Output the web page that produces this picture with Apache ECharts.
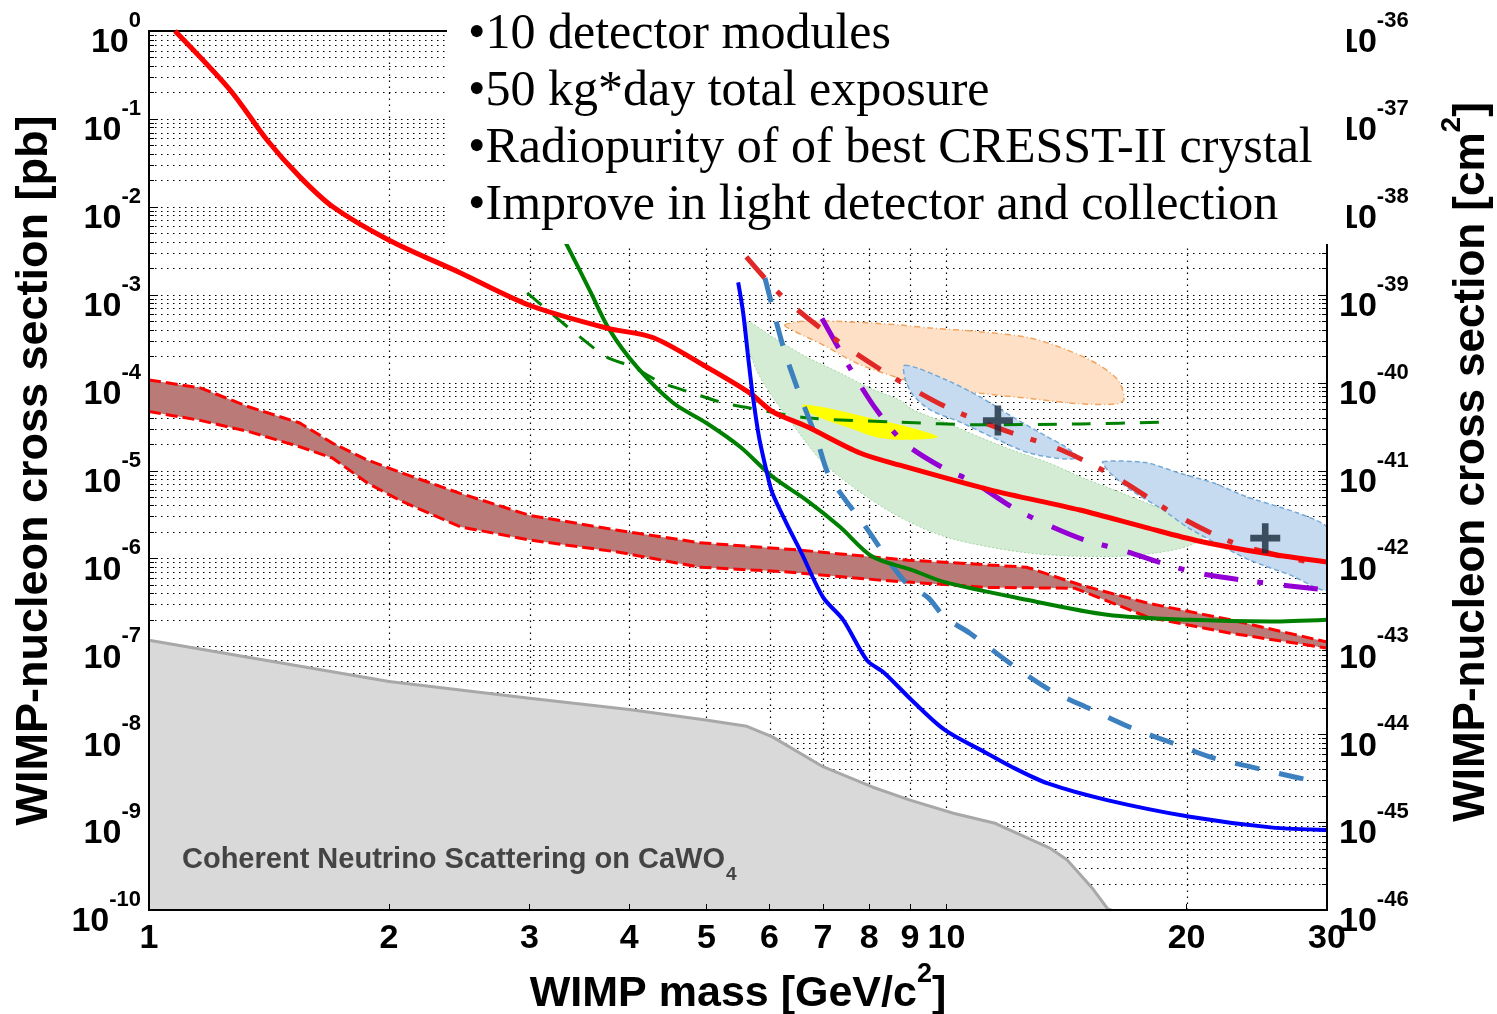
<!DOCTYPE html>
<html>
<head>
<meta charset="utf-8">
<script src="https://cdn.jsdelivr.net/npm/echarts@6/dist/echarts.min.js"></script>
<style>
  html, body { margin: 0; padding: 0; background: #ffffff; }
  #chart { width: 1497px; height: 1014px; }
</style>
</head>
<body>
<div id="chart"></div>
<script>
// ---- axis structure -------------------------------------------------------
const massTicks = [1, 2, 3, 4, 5, 6, 7, 8, 9, 10, 20, 30];       // GeV/c^2
const massGridLines = [2, 3, 4, 5, 6, 7, 8, 9, 10, 20];
const sigmaDecades = [0, -1, -2, -3, -4, -5, -6, -7, -8, -9, -10]; // log10 pb
const sigmaMantissas = [1, 2, 3, 4, 5, 6, 7, 8, 9];
const PB_TO_CM2_EXP = -36;                                          // 1 pb = 1e-36 cm^2
const bulletLines = [
  '\u202210 detector modules',
  '\u202250 kg*day total exposure',
  '\u2022Radiopurity of of best CRESST-II crystal',
  '\u2022Improve in light detector and collection'
];

// ---- curves: [WIMP mass GeV/c^2, cross section pb] ------------------------
const redLimit = [
  [1.078, 1], [1.264, 2.13e-1], [1.406, 5.75e-2], [1.546, 2.19e-2], [1.70, 1.0e-2],
  [2.0, 4.17e-3], [2.455, 1.78e-3], [3.0, 7.59e-4], [3.75, 4.17e-4], [4.29, 3.24e-4],
  [5.0, 1.51e-4], [5.67, 7.59e-5], [6.05, 4.68e-5], [6.68, 3.16e-5], [7.79, 1.58e-5],
  [8.74, 1.15e-5], [11.34, 6.03e-6], [14.7, 3.55e-6], [17.8, 2.24e-6], [20.7, 1.58e-6],
  [25, 1.15e-6], [30, 9.1e-7]
];
const bandUpper = [
  [1, 1.07e-4], [1.159, 8.71e-5], [1.338, 5.25e-5], [1.546, 3.47e-5], [1.70, 2.04e-5],
  [1.877, 1.32e-5], [2.063, 9.55e-6], [2.455, 5.50e-6], [3.0, 3.09e-6], [3.87, 2.09e-6],
  [4.90, 1.51e-6], [6.43, 1.26e-6], [8.95, 9.55e-7], [12.6, 7.94e-7], [14.7, 5.01e-7],
  [17.9, 3.09e-7], [22.7, 2.0e-7], [30, 1.12e-7]
];
const bandLower = [
  [1, 4.68e-5], [1.159, 3.72e-5], [1.338, 2.75e-5], [1.546, 1.86e-5], [1.70, 1.38e-5],
  [1.877, 7.24e-6], [2.063, 4.57e-6], [2.455, 2.29e-6], [3.0, 1.62e-6], [3.9, 1.17e-6],
  [4.90, 7.94e-7], [6.23, 7.08e-7], [8.34, 5.62e-7], [11.2, 4.68e-7], [14.5, 4.57e-7],
  [17.9, 2.14e-7], [22.7, 1.41e-7], [30, 9.55e-8]
];
const neutrinoFloor = [
  [1, 1.17e-7], [2.0, 3.98e-8], [3.0, 2.57e-8], [4.0, 1.91e-8], [4.99, 1.45e-8],
  [5.62, 1.23e-8], [6.05, 9.33e-9], [7.0, 4.27e-9], [8.07, 2.51e-9], [9.0, 1.78e-9],
  [10.2, 1.26e-9], [11.47, 9.77e-10], [13.5, 5.01e-10], [14.16, 3.72e-10],
  [15.2, 1.82e-10], [15.94, 1.02e-10], [16.1, 1e-10]
];
const greenLimit = [
  [3.28, 5.01e-3], [3.34, 3.72e-3], [3.57, 1.12e-3], [3.78, 3.98e-4], [4.09, 1.51e-4],
  [4.54, 5.89e-5], [5.0, 3.47e-5], [5.51, 1.86e-5], [6.05, 8.51e-6], [6.68, 4.57e-6],
  [7.35, 2.29e-6], [8.07, 1.05e-6], [9.04, 7.41e-7], [9.95, 5.37e-7], [12.6, 3.39e-7],
  [15.9, 2.29e-7], [20.2, 2.0e-7], [25.5, 1.91e-7], [30, 2.0e-7]
];
const greenDashed = [
  [2.98, 1.05e-3], [3.25, 5.37e-4], [3.47, 3.31e-4], [3.75, 1.95e-4], [4.04, 1.51e-4],
  [4.37, 1.02e-4], [4.77, 7.76e-5], [5.25, 5.89e-5], [5.67, 5.13e-5], [6.68, 3.98e-5],
  [8.74, 3.55e-5], [11.0, 3.31e-5], [14.7, 3.39e-5], [18.5, 3.55e-5], [19.2, 3.72e-5]
];
const blueProjection = [
  [5.48, 1.38e-3], [5.56, 6.17e-4], [5.64, 1.95e-4], [5.71, 7.59e-5], [5.82, 2.40e-5],
  [5.97, 8.51e-6], [6.05, 5.50e-6], [6.30, 2.51e-6], [6.58, 1.15e-6], [7.0, 3.63e-7],
  [7.42, 2.0e-7], [7.95, 6.92e-8], [8.35, 5.01e-8], [9.04, 2.45e-8], [9.95, 1.12e-8],
  [11.2, 6.17e-9], [12.0, 4.37e-9], [13.4, 2.75e-9], [15.9, 1.78e-9], [20.2, 1.15e-9],
  [25.5, 8.71e-10], [30, 8.13e-10]
];
const steelDashed = [
  [5.92, 1.55e-3], [6.24, 2.57e-4], [6.51, 8.32e-5], [6.88, 2.24e-5], [7.10, 9.33e-6],
  [7.42, 5.01e-6], [7.86, 2.51e-6], [8.84, 5.62e-7], [9.49, 3.55e-7], [9.95, 2.14e-7],
  [10.7, 1.41e-7], [12.0, 6.46e-8], [13.5, 3.16e-8], [15.2, 1.91e-8], [17.1, 1.17e-8],
  [19.2, 7.94e-9], [21.6, 5.37e-9], [24.3, 4.17e-9], [27.4, 3.24e-9], [29.5, 2.82e-9]
];
const redDashDot = [
  [5.61, 2.69e-3], [6.24, 9.33e-4], [7.29, 3.02e-4], [8.57, 1.15e-4], [10.0, 5.25e-5],
  [11.8, 2.88e-5], [13.96, 1.70e-5], [16.4, 8.13e-6], [19.2, 3.31e-6], [22.7, 1.55e-6],
  [26.2, 1.07e-6], [30, 8.32e-7]
];
const purpleDashDot = [
  [6.98, 5.37e-4], [7.63, 1.29e-4], [8.2, 4.68e-5], [8.87, 2.04e-5], [9.9, 1.07e-5],
  [10.8, 7.41e-6], [12.1, 3.80e-6], [13.4, 2.40e-6], [14.9, 1.62e-6], [16.5, 1.26e-6],
  [20.3, 7.08e-7], [25.1, 5.25e-7], [30, 4.37e-7]
];

// ---- closed regions: [WIMP mass GeV/c^2, cross section pb] -----------------
const orangeRegion = [
  [6.27, 4.52e-4], [6.69, 5.01e-4], [7.57, 4.90e-4], [8.74, 4.52e-4], [9.54, 4.17e-4],
  [11.0, 3.80e-4], [12.7, 3.24e-4], [14.0, 2.45e-4], [15.4, 1.66e-4], [16.4, 1.07e-4],
  [16.7, 6.61e-5], [16.4, 5.75e-5], [14.7, 5.75e-5], [12.7, 6.61e-5], [11.0, 7.59e-5],
  [9.54, 9.12e-5], [8.74, 1.12e-4], [7.72, 1.66e-4], [7.0, 2.69e-4], [6.46, 3.80e-4]
];
const greenRegion = [
  [5.62, 4.90e-4], [6.05, 3.31e-4], [6.68, 1.95e-4], [7.35, 1.29e-4], [8.09, 8.32e-5],
  [8.74, 6.31e-5], [9.08, 4.90e-5], [10.0, 3.47e-5], [11.0, 2.40e-5], [12.1, 1.70e-5],
  [13.4, 1.23e-5], [14.7, 8.51e-6], [16.2, 6.03e-6], [17.8, 4.27e-6], [19.1, 3.31e-6],
  [20.5, 2.40e-6], [21.1, 1.86e-6], [20.2, 1.41e-6], [18.5, 1.17e-6], [16.0, 1.05e-6],
  [12.7, 1.15e-6], [10.1, 1.70e-6], [8.74, 2.95e-6], [7.72, 6.03e-6], [7.0, 1.23e-5],
  [6.68, 2.04e-5], [6.36, 3.72e-5], [6.05, 6.92e-5], [5.78, 1.38e-4], [5.62, 3.02e-4]
];
const yellowRegion = [
  [6.61, 5.62e-5], [7.35, 4.79e-5], [8.25, 3.72e-5], [9.08, 3.02e-5], [9.76, 2.40e-5],
  [9.08, 2.24e-5], [8.25, 2.34e-5], [7.57, 3.02e-5], [6.94, 3.98e-5], [6.63, 4.90e-5]
];
const blueRegionA = [
  [8.87, 1.58e-4], [10.0, 1.07e-4], [11.0, 6.92e-5], [12.1, 4.07e-5], [13.4, 2.40e-5],
  [14.1, 1.86e-5], [14.6, 1.41e-5], [14.1, 1.35e-5], [12.7, 1.58e-5], [11.6, 2.24e-5],
  [10.4, 3.55e-5], [9.54, 4.90e-5], [9.08, 7.24e-5], [8.87, 1.12e-4]
];
const blueRegionB = [
  [15.7, 1.26e-5], [17.8, 1.23e-5], [19.6, 9.33e-6], [21.6, 7.24e-6], [23.8, 5.01e-6],
  [27.5, 3.31e-6], [30, 2.24e-6], [30, 4.37e-7], [27.0, 6.46e-7], [24.0, 9.55e-7],
  [21.4, 1.62e-6], [20.0, 2.29e-6], [18.7, 3.55e-6], [17.0, 6.03e-6], [16.0, 9.55e-6]
];
const bestFits = [[11.6, 3.7e-5], [25.1, 1.7e-6]];

// ---- chart ----------------------------------------------------------------
const SANS = '"Liberation Sans", Arial, Helvetica, sans-serif';
const SERIF = '"Liberation Serif", "Times New Roman", serif';
const X_MIN = 1, X_MAX = 30, Y_MIN = 1e-10, Y_MAX = 1;

const hGrid = [];
sigmaDecades.forEach(d => sigmaMantissas.forEach(k => {
  const v = k * Math.pow(10, d);
  if (v > Y_MIN * 1.0001 && v < Y_MAX * 0.9999) hGrid.push([X_MIN, v, k === 1 ? 1 : 0]);
}));
const vGrid = massGridLines.map(m => [m, Y_MIN]);

function polygonRegion(points, style, z, name, smooth) {
  return {
    name, type: 'custom', xAxisIndex: 0, yAxisIndex: 0, z, silent: true, clip: true,
    data: [points[0]],
    renderItem: (params, api) => ({
      type: 'polygon',
      shape: { points: points.map(p => api.coord(p)), smooth: smooth || 0 },
      style
    })
  };
}
function lineSeries(name, data, color, width, dash, z, smooth) {
  return {
    name, type: 'line', xAxisIndex: 0, yAxisIndex: 0, data, z,
    showSymbol: false, symbol: 'none', silent: true, clip: true,
    smooth: smooth === undefined ? 0.3 : smooth,
    lineStyle: { color, width, type: dash || 'solid', cap: 'butt', join: 'round' }
  };
}
const tickRich = {
  b: { fontFamily: SANS, fontWeight: 'bold', fontSize: 34, color: '#000', verticalAlign: 'top', padding: [24, 0, 0, 0] },
  s: { fontFamily: SANS, fontWeight: 'bold', fontSize: 22, color: '#000', verticalAlign: 'top', padding: [8, 0, 0, 0] }
};
// decade labels; the right axis shows the same scale converted to cm^2
const powFormatter = shift => v => {
  const e = Math.round(Math.log10(v));
  return isFinite(e) ? '{b|10}{s|' + (e + shift) + '}' : '';
};

const option = {
  animation: false,
  backgroundColor: '#ffffff',
  grid: {
    left: 149, right: 170, top: 31, bottom: 104,
    show: true, borderColor: '#000', borderWidth: 2, backgroundColor: 'transparent',
    containLabel: false, outerBoundsMode: 'none'
  },
  xAxis: [
    { type: 'log', logBase: 10, min: X_MIN, max: X_MAX, position: 'bottom', show: false,
      splitLine: { show: false } },
    { type: 'value', min: 0, max: Math.log10(X_MAX), position: 'bottom', z: 10,
      axisLine: { show: true, onZero: false, lineStyle: { color: '#000', width: 2 } },
      axisTick: { show: true, inside: true, length: 6, customValues: massTicks.map(Math.log10),
        lineStyle: { color: '#000', width: 1 } },
      splitLine: { show: false },
      axisLabel: {
        customValues: massTicks.map(Math.log10), margin: 12,
        formatter: v => String(massTicks.find(t => Math.abs(Math.log10(t) - v) < 1e-6)),
        fontFamily: SANS, fontWeight: 'bold', fontSize: 34, color: '#000'
      },
      name: '{t|WIMP mass [GeV/c}{s|2}{t|]}', nameLocation: 'middle', nameGap: 47,
      nameTextStyle: { rich: {
        t: { fontFamily: SANS, fontWeight: 'bold', fontSize: 43, color: '#000', verticalAlign: 'bottom', padding: [12, 0, 0, 0] },
        s: { fontFamily: SANS, fontWeight: 'bold', fontSize: 27, color: '#000', verticalAlign: 'top' }
      } }
    }
  ],
  yAxis: [
    { type: 'log', logBase: 10, min: Y_MIN, max: Y_MAX, interval: 1, position: 'left', z: 10,
      axisLine: { show: true, onZero: false, lineStyle: { color: '#000', width: 2 } },
      axisTick: { show: false }, splitLine: { show: false },
      axisLabel: { formatter: powFormatter(0), rich: tickRich, margin: 8 },
      name: 'WIMP-nucleon cross section [pb]', nameLocation: 'middle', nameRotate: 90, nameGap: 92,
      nameTextStyle: { fontFamily: SANS, fontWeight: 'bold', fontSize: 45, color: '#000' }
    },
    { type: 'log', logBase: 10, min: Y_MIN, max: Y_MAX, interval: 1, position: 'right', z: 10,
      axisLine: { show: true, onZero: false, lineStyle: { color: '#000', width: 2 } },
      axisTick: { show: false }, splitLine: { show: false },
      axisLabel: { formatter: powFormatter(PB_TO_CM2_EXP), rich: tickRich, margin: 12 }
    }
  ],
  series: [
    // dotted grid with inward minor ticks
    { name: 'hgrid', type: 'custom', xAxisIndex: 0, yAxisIndex: 0, z: 1, silent: true, data: hGrid,
      renderItem: (params, api) => {
        const a = api.coord([X_MIN, api.value(1)]);
        const b = api.coord([X_MAX, api.value(1)]);
        const y = Math.round(a[1]) + 0.5;
        const len = api.value(2) ? 9 : 5;
        return { type: 'group', children: [
          { type: 'line', shape: { x1: a[0], y1: y, x2: b[0], y2: y },
            style: { stroke: '#000', lineWidth: 1.2, lineDash: [1.5, 4.5] } },
          { type: 'line', shape: { x1: a[0], y1: y, x2: a[0] + len, y2: y }, style: { stroke: '#000', lineWidth: 1 } },
          { type: 'line', shape: { x1: b[0] - len, y1: y, x2: b[0], y2: y }, style: { stroke: '#000', lineWidth: 1 } }
        ] };
      } },
    { name: 'vgrid', type: 'custom', xAxisIndex: 0, yAxisIndex: 0, z: 1, silent: true, data: vGrid,
      renderItem: (params, api) => {
        const a = api.coord([api.value(0), Y_MIN]);
        const b = api.coord([api.value(0), Y_MAX]);
        const x = Math.round(a[0]) + 0.5;
        return { type: 'line', shape: { x1: x, y1: a[1], x2: x, y2: b[1] },
          style: { stroke: '#000', lineWidth: 1.2, lineDash: [1.5, 4.5] } };
      } },

    // filled regions
    polygonRegion(neutrinoFloor.concat([[X_MIN, Y_MIN]]), { fill: '#d9d9d9' }, 2, 'neutrino floor'),
    lineSeries('neutrino floor edge', neutrinoFloor, '#a8a8a8', 3, 'solid', 3, 0),
    polygonRegion(bandUpper.concat(bandLower.slice().reverse()), { fill: '#b97a78' }, 3, 'band'),
    polygonRegion(greenRegion, { fill: '#d4ecd4', stroke: '#a3d6a3', lineWidth: 1, lineDash: [2, 2] }, 3, 'green region', 0.3),
    polygonRegion(orangeRegion, { fill: '#fee0c7', stroke: '#f0a560', lineWidth: 1.5, lineDash: [6, 3, 1, 3] }, 3, 'orange region', 0.3),
    polygonRegion(yellowRegion, { fill: '#ffff00' }, 3, 'yellow region', 0.3),
    polygonRegion(blueRegionA, { fill: '#c6dbef', stroke: '#74a9d8', lineWidth: 1.5, lineDash: [5, 3] }, 3, 'blue region A', 0.3),
    polygonRegion(blueRegionB, { fill: '#c6dbef', stroke: '#74a9d8', lineWidth: 1.5, lineDash: [5, 3] }, 3, 'blue region B', 0.2),
    lineSeries('band upper', bandUpper, '#ff0000', 3, [12, 5], 4, 0),
    lineSeries('band lower', bandLower, '#ff0000', 3, [12, 5], 4, 0),

    // exclusion limits / projections
    lineSeries('green dashed', greenDashed, '#008000', 3, [19, 15], 5),
    lineSeries('steel dashed', steelDashed, '#3d80c0', 5, [25, 20], 5),
    lineSeries('purple dash-dot', purpleDashDot, '#9400d3', 5, [34, 19, 6, 21], 5),
    lineSeries('red dash-dot', redDashDot, '#e02828', 5, [28, 18, 6, 22], 5),
    lineSeries('green limit', greenLimit, '#008000', 4, 'solid', 6),
    lineSeries('red limit', redLimit, '#ff0000', 5, 'solid', 6),
    lineSeries('blue projection', blueProjection, '#0000ff', 4, 'solid', 6),
    { name: 'best fits', type: 'scatter', xAxisIndex: 0, yAxisIndex: 0, z: 7, silent: true,
      data: bestFits, symbolSize: 30,
      symbol: 'path://M-1.1,-5H1.1V-1.1H5V1.1H1.1V5H-1.1V1.1H-5V-1.1H-1.1Z',
      itemStyle: { color: '#182a3c' } }
  ],
  graphic: [
    { type: 'text', left: 182, top: 845, z: 50, silent: true,
      style: {
        text: '{a|Coherent Neutrino Scattering on CaWO}{u|4}',
        rich: {
          a: { font: 'bold 29px ' + SANS, fill: '#444444', verticalAlign: 'top' },
          u: { font: 'bold 19px ' + SANS, fill: '#444444', verticalAlign: 'top', padding: [20, 0, 0, 1] }
        }
      } },
    { type: 'text', x: 1466, y: 462, rotation: Math.PI / 2, z: 50, silent: true,
      style: {
        text: '{t|WIMP-nucleon cross section [cm}{s|2}{t|]}',
        align: 'center', verticalAlign: 'middle',
        rich: {
          t: { font: 'bold 44px ' + SANS, fill: '#000', verticalAlign: 'bottom', padding: [12, 0, 0, 0] },
          s: { font: 'bold 28px ' + SANS, fill: '#000', verticalAlign: 'top' }
        }
      } },
    { type: 'rect', left: 447, top: 0, z: 100, silent: true,
      shape: { width: 900, height: 244 }, style: { fill: '#ffffff' } },
    ...bulletLines.map((t, i) => ({
      type: 'text', left: 468, top: 10 + i * 57, z: 101, silent: true,
      style: { text: t, font: '50px ' + SERIF, fill: '#000000' }
    }))
  ]
};

const chart = echarts.init(document.getElementById('chart'), null, { renderer: 'canvas' });
chart.setOption(option);
</script>
</body>
</html>
